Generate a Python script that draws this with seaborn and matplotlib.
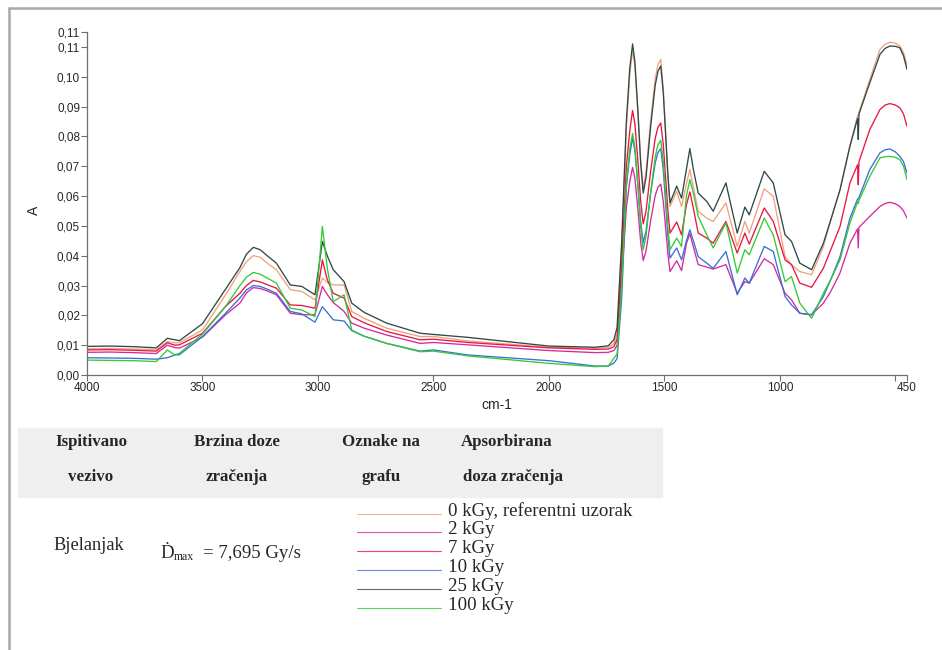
import numpy as np
import pandas as pd
import matplotlib
matplotlib.use("Agg")
import matplotlib.pyplot as plt
from matplotlib.lines import Line2D
from matplotlib.patches import Rectangle
import seaborn as sns

# wavenumbers (cm-1)
wavenumber = [4000, 3900, 3800, 3700, 3652, 3620, 3600, 3500, 3400, 3338,
              3310, 3280, 3250, 3220, 3180, 3120, 3070, 3013, 2981, 2960,
              2934, 2887, 2854, 2800, 2703, 2558, 2500, 2349, 2000, 1800,
              1743, 1719, 1705, 1685, 1665, 1650, 1638, 1628, 1615, 1603,
              1592, 1580, 1560, 1540, 1528, 1516, 1505, 1495, 1485, 1476,
              1447, 1426, 1405, 1390, 1375, 1354, 1317, 1289, 1234, 1185,
              1152, 1133, 1068, 1029, 978, 950, 914, 863, 812, 780,
              740, 697, 664, 661, 658, 611, 567, 545, 524, 500,
              481, 465, 450]

a_0kgy = [0.0088, 0.0089, 0.0087, 0.0085, 0.0112, 0.0108, 0.0108, 0.0151, 0.0269, 0.0347,
          0.0380, 0.0400, 0.0395, 0.0375, 0.0353, 0.0286, 0.0280, 0.0252, 0.0325, 0.0310,
          0.0302, 0.0302, 0.0213, 0.0190, 0.0157, 0.0129, 0.0129, 0.0114, 0.0093, 0.0090,
          0.0093, 0.0105, 0.0140, 0.0430, 0.0830, 0.1010, 0.1090, 0.1034, 0.0882, 0.0720,
          0.0627, 0.0679, 0.0851, 0.0993, 0.1041, 0.1058, 0.0959, 0.0812, 0.0664, 0.0565,
          0.0616, 0.0565, 0.0640, 0.0689, 0.0630, 0.0549, 0.0526, 0.0515, 0.0577, 0.0431,
          0.0515, 0.0476, 0.0624, 0.0599, 0.0397, 0.0370, 0.0347, 0.0336, 0.0431, 0.0520,
          0.0621, 0.0770, 0.0870, 0.0870, 0.0880, 0.0991, 0.1092, 0.1108, 0.1116, 0.1112,
          0.1103, 0.1080, 0.1040]
a_2kgy = [0.0076, 0.0077, 0.0075, 0.0072, 0.0100, 0.0092, 0.0090, 0.0127, 0.0202, 0.0241,
          0.0275, 0.0293, 0.0290, 0.0282, 0.0269, 0.0207, 0.0202, 0.0202, 0.0297, 0.0270,
          0.0243, 0.0213, 0.0174, 0.0157, 0.0134, 0.0106, 0.0109, 0.0101, 0.0082, 0.0075,
          0.0076, 0.0082, 0.0100, 0.0330, 0.0560, 0.0650, 0.0696, 0.0659, 0.0556, 0.0446,
          0.0384, 0.0415, 0.0517, 0.0602, 0.0630, 0.0640, 0.0581, 0.0494, 0.0406, 0.0347,
          0.0383, 0.0350, 0.0440, 0.0474, 0.0430, 0.0370, 0.0362, 0.0355, 0.0370, 0.0274,
          0.0313, 0.0308, 0.0390, 0.0370, 0.0274, 0.0252, 0.0207, 0.0202, 0.0241, 0.0280,
          0.0342, 0.0442, 0.0490, 0.0426, 0.0495, 0.0532, 0.0565, 0.0575, 0.0579, 0.0574,
          0.0565, 0.0550, 0.0526]
a_7kgy = [0.0084, 0.0085, 0.0083, 0.0080, 0.0108, 0.0100, 0.0101, 0.0140, 0.0230, 0.0274,
          0.0300, 0.0317, 0.0312, 0.0303, 0.0291, 0.0235, 0.0233, 0.0224, 0.0386, 0.0320,
          0.0274, 0.0258, 0.0196, 0.0175, 0.0146, 0.0118, 0.0120, 0.0109, 0.0091, 0.0086,
          0.0087, 0.0095, 0.0120, 0.0370, 0.0700, 0.0820, 0.0887, 0.0841, 0.0716, 0.0583,
          0.0507, 0.0548, 0.0683, 0.0794, 0.0831, 0.0845, 0.0771, 0.0661, 0.0550, 0.0476,
          0.0513, 0.0470, 0.0570, 0.0614, 0.0560, 0.0476, 0.0459, 0.0442, 0.0515, 0.0409,
          0.0476, 0.0439, 0.0560, 0.0515, 0.0386, 0.0370, 0.0308, 0.0294, 0.0358, 0.0420,
          0.0498, 0.0644, 0.0705, 0.0638, 0.0715, 0.0823, 0.0890, 0.0905, 0.0910, 0.0905,
          0.0896, 0.0875, 0.0834]
a_10kgy = [0.0058, 0.0057, 0.0056, 0.0053, 0.0058, 0.0067, 0.0068, 0.0129, 0.0207, 0.0258,
           0.0285, 0.0300, 0.0297, 0.0288, 0.0274, 0.0213, 0.0205, 0.0177, 0.0229, 0.0210,
           0.0185, 0.0181, 0.0149, 0.0130, 0.0106, 0.0080, 0.0084, 0.0067, 0.0048, 0.0030,
           0.0030, 0.0040, 0.0055, 0.0260, 0.0630, 0.0740, 0.0795, 0.0753, 0.0637, 0.0514,
           0.0444, 0.0482, 0.0608, 0.0712, 0.0746, 0.0759, 0.0686, 0.0576, 0.0465, 0.0392,
           0.0426, 0.0386, 0.0450, 0.0487, 0.0450, 0.0397, 0.0375, 0.0358, 0.0414, 0.0269,
           0.0325, 0.0308, 0.0431, 0.0414, 0.0263, 0.0235, 0.0207, 0.0202, 0.0263, 0.0320,
           0.0397, 0.0526, 0.0590, 0.0590, 0.0595, 0.0689, 0.0745, 0.0755, 0.0758, 0.0748,
           0.0733, 0.0715, 0.0677]
a_25kgy = [0.0096, 0.0097, 0.0095, 0.0091, 0.0123, 0.0118, 0.0115, 0.0172, 0.0288, 0.0360,
           0.0405, 0.0428, 0.0420, 0.0400, 0.0375, 0.0302, 0.0297, 0.0269, 0.0448, 0.0400,
           0.0353, 0.0313, 0.0241, 0.0210, 0.0174, 0.0140, 0.0136, 0.0126, 0.0097, 0.0093,
           0.0098, 0.0118, 0.0160, 0.0450, 0.0850, 0.1030, 0.1110, 0.1050, 0.0885, 0.0710,
           0.0610, 0.0661, 0.0832, 0.0972, 0.1019, 0.1036, 0.0944, 0.0807, 0.0669, 0.0577,
           0.0633, 0.0593, 0.0690, 0.0759, 0.0690, 0.0610, 0.0582, 0.0549, 0.0644, 0.0476,
           0.0563, 0.0537, 0.0683, 0.0644, 0.0470, 0.0448, 0.0375, 0.0353, 0.0442, 0.0520,
           0.0621, 0.0767, 0.0860, 0.0790, 0.0875, 0.0980, 0.1075, 0.1095, 0.1103, 0.1102,
           0.1097, 0.1070, 0.1025]
a_100kgy = [0.0050, 0.0049, 0.0048, 0.0045, 0.0084, 0.0067, 0.0073, 0.0137, 0.0230, 0.0300,
            0.0328, 0.0344, 0.0338, 0.0325, 0.0308, 0.0224, 0.0218, 0.0196, 0.0498, 0.0360,
            0.0246, 0.0269, 0.0151, 0.0130, 0.0106, 0.0078, 0.0080, 0.0064, 0.0039, 0.0028,
            0.0030, 0.0056, 0.0070, 0.0300, 0.0640, 0.0760, 0.0810, 0.0763, 0.0635, 0.0498,
            0.0420, 0.0464, 0.0611, 0.0732, 0.0772, 0.0787, 0.0714, 0.0604, 0.0493, 0.0420,
            0.0459, 0.0431, 0.0600, 0.0655, 0.0610, 0.0532, 0.0470, 0.0426, 0.0510, 0.0342,
            0.0420, 0.0403, 0.0526, 0.0470, 0.0313, 0.0330, 0.0241, 0.0190, 0.0274, 0.0320,
            0.0386, 0.0510, 0.0580, 0.0575, 0.0585, 0.0666, 0.0728, 0.0732, 0.0733, 0.0730,
            0.0722, 0.0700, 0.0655]

doses = ['0 kGy, referentni uzorak', '2 kGy', '7 kGy', '10 kGy', '25 kGy', '100 kGy']
series = [a_0kgy, a_2kgy, a_7kgy, a_10kgy, a_25kgy, a_100kgy]
colors = ['#F2A07E', '#D42A9E', '#E8173F', '#3B6FD6', '#2E4A48', '#35C935']

x_ticks = [4000, 3500, 3000, 2500, 2000, 1500, 1000, 500, 450]
x_tick_labels = ['4000', '3500', '3000', '2500', '2000', '1500', '1000', '', '450']
y_ticks = [0.00, 0.01, 0.02, 0.03, 0.04, 0.05, 0.06, 0.07, 0.08, 0.09, 0.10, 0.11, 0.115]
y_tick_labels = ['0,00', '0,01', '0,02', '0,03', '0,04', '0,05', '0,06', '0,07', '0,08', '0,09', '0,10', '0,11', '0,11']

df = pd.DataFrame({'cm-1': np.tile(wavenumber, len(doses)),
                   'A': np.concatenate(series),
                   'doza': np.repeat(doses, len(wavenumber))})

sns.set_style("white")
plt.rcParams['font.family'] = ['Liberation Sans', 'DejaVu Sans']

W, H = 942, 650
fig = plt.figure(figsize=(W / 100, H / 100), dpi=100)
ax = fig.add_axes([87 / W, 1 - 375 / H, 820 / W, 343 / H])

for i in range(len(doses)):
    sub = df[df.doza == doses[i]]
    sns.lineplot(data=sub, x='cm-1', y='A', color=colors[i], lw=0.95, ax=ax,
                 estimator=None, sort=False, legend=False)

ax.set_xlim(4000, 450)
ax.set_ylim(0, 0.115)
ax.set_xticks(x_ticks)
ax.set_xticklabels(x_tick_labels)
ax.set_yticks(y_ticks)
ax.set_yticklabels(y_tick_labels)
ax.set_xlabel('')
ax.set_ylabel('')
for s in ['top', 'right']:
    ax.spines[s].set_visible(False)
for s in ['left', 'bottom']:
    ax.spines[s].set_color('#707070')
    ax.spines[s].set_linewidth(0.9)
ax.tick_params(axis='both', direction='out', length=4, width=0.8, color='#707070',
               labelsize=8.5, pad=1, left=True, bottom=True)

fig.text(34 / W, 1 - 210 / H, 'A', rotation=90, ha='center', va='center', fontsize=10)
fig.text(497 / W, 1 - 405 / H, 'cm-1', ha='center', va='center', fontsize=10)

# frame lines of the page
fig.add_artist(Line2D([9 / W, 9 / W], [0, 1 - 8 / H], color='#a8a8a8', lw=1.8))
fig.add_artist(Line2D([9 / W, 1], [1 - 8 / H, 1 - 8 / H], color='#a8a8a8', lw=1.8))

# table under the chart
fig.add_artist(Rectangle((18 / W, 1 - 497 / H), (662 - 18) / W, (497 - 428) / H,
                         transform=fig.transFigure, color='#efefef', zorder=0))
serif = ['Liberation Serif', 'DejaVu Serif']
head_top = ['Ispitivano', 'Brzina doze', 'Oznake na']
head_bottom = ['vezivo', 'zračenja', 'grafu']
head_x = [91, 237, 381]
for t, b, x in zip(head_top, head_bottom, head_x):
    fig.text(x / W, 1 - 442 / H, t, ha='center', va='center', family=serif, weight='bold', fontsize=12.2)
    fig.text(x / W, 1 - 477 / H, b, ha='center', va='center', family=serif, weight='bold', fontsize=12.2)
fig.text(461 / W, 1 - 442 / H, 'Apsorbirana', ha='left', va='center', family=serif, weight='bold', fontsize=12.2)
fig.text(463 / W, 1 - 477 / H, 'doza zračenja', ha='left', va='center', family=serif, weight='bold', fontsize=12.2)

fig.text(89 / W, 1 - 546 / H, 'Bjelanjak', ha='center', va='center', family=serif, fontsize=13.2)
fig.text(160 / W, 1 - 553 / H, 'Ḋ', ha='left', va='center', family=serif, fontsize=13.6)
fig.text(174 / W, 1 - 557 / H, 'max', ha='left', va='center', family=serif, fontsize=8.5)
fig.text(203 / W, 1 - 553 / H, '= 7,695 Gy/s', ha='left', va='center', family=serif, fontsize=13.6)

for k, (lab, c) in enumerate(zip(doses, colors)):
    y = 511 + k * 18.8
    fig.add_artist(Line2D([357 / W, 441 / W], [1 - (y + 2.5) / H] * 2, color=c, lw=0.8, alpha=0.8))
    fig.text(448 / W, 1 - y / H, lab, ha='left', va='center', family=serif, fontsize=13.6)

fig.savefig('out.png', dpi=100)
